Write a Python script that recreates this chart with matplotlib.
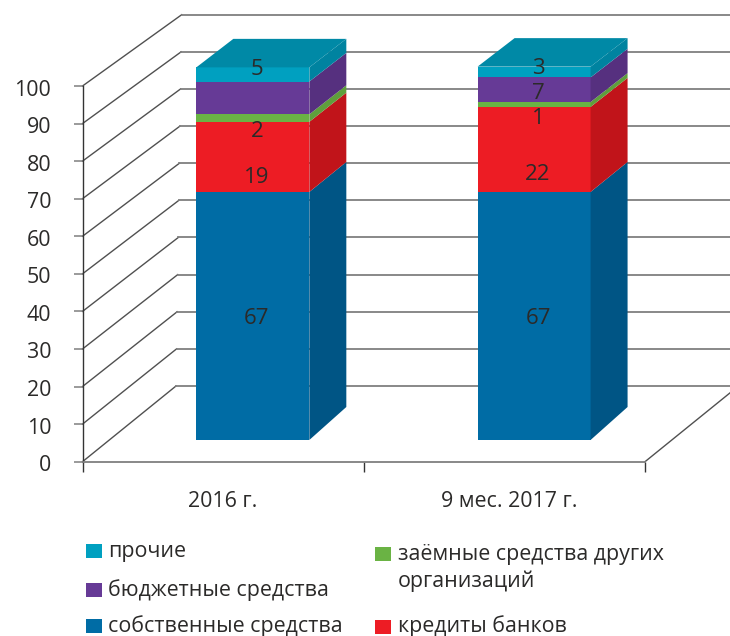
import matplotlib
matplotlib.use("Agg")
import matplotlib.pyplot as plt
from matplotlib.patches import Polygon, Rectangle
from matplotlib.transforms import ScaledTranslation

plt.rcParams['font.family'] = ['Open Sans', 'DejaVu Sans']

# --- data ---
categories = ['2016 г.', '9 мес. 2017 г.']
series_names = ['собственные средства', 'кредиты банков',
                'заёмные средства других\nорганизаций', 'бюджетные средства', 'прочие']
# segment heights as drawn in the picture
own = [66.5, 66.5]
bank = [18.8, 22.8]
loans = [2.0, 1.3]
budget = [8.8, 6.6]
other = [3.8, 2.9]
# printed data labels (none printed on the purple segment of 2016)
label_own = ['67', '67']
label_bank = ['19', '22']
label_loans = ['2', '1']
label_budget = ['', '7']
label_other = ['5', '3']
y_ticks = list(range(0, 101, 10))

# --- styles ---
front = ['#006CA5', '#ED1C24', '#6AB344', '#663A96', '#00A0C0']
side = ['#005585', '#C1141A', '#5F9F3C', '#56307F', '#0083A0']
top_col = '#0089A6'
text_col = '#2B2A29'
W, H = 730, 636
L, R, B, T = 82.5, 645, 461.7, 86
FS = 15.4

fig = plt.figure(figsize=(W / 100, H / 100), dpi=100)
ax = fig.add_axes([L / W, 1 - B / H, (R - L) / W, (B - T) / H])
ax.set_xlim(0, 2)
ax.set_ylim(0, 100)
ax.patch.set_alpha(0)
sx = (R - L) / 2
sy = (B - T) / 100

for s in ('top', 'right'):
    ax.spines[s].set_visible(False)
ax.spines['left'].set_color('#333333')
ax.spines['left'].set_linewidth(1.0)
ax.spines['bottom'].set_color('#7F7F7F')
ax.spines['bottom'].set_linewidth(1.3)
ax.set_yticks(y_ticks)
ax.tick_params(axis='y', length=6.5, width=1.1, color='#7F7F7F', pad=16,
               labelsize=FS, labelcolor=text_col)
down = ScaledTranslation(0, -1.5 / 100, fig.dpi_scale_trans)
for lab in ax.get_yticklabels():
    lab.set_transform(lab.get_transform() + down)
ax.set_xticks([0, 1, 2])
ax.set_xticklabels(['', '', ''])
ax.tick_params(axis='x', length=7.5, width=1.0, color='#333333')
ax.set_xticks([0.5, 1.518], minor=True)
ax.set_xticklabels(categories, minor=True)
ax.tick_params(axis='x', which='minor', length=0, pad=21, labelsize=FS, labelcolor=text_col)


def wall_dx(v):
    return (93.5 + 0.057 * v) / sx


def wall_dy(v):
    return (75.7 - 0.044 * v) / sy


x_edge = (W + 20 - L) / sx
for v in y_ticks:
    bx, by = wall_dx(v), v + wall_dy(v)
    ax.plot([0, bx], [v, by], color='#505050', lw=1.0, clip_on=False, zorder=1)
    ax.plot([bx, x_edge], [by, by], color='#7F7F7F', lw=1.3, clip_on=False, zorder=1)
ax.plot([2, 2 + wall_dx(0)], [0, wall_dy(0)], color='#505050', lw=1.0, clip_on=False, zorder=1)

# --- bars ---
bar_w = 113 / sx
shift_x = 29.7 / sx
base = 21.7 / sy
scale = 373 / (B - T)
depth_x = 37 / sx


def depth_y(v):
    return (33 - 0.045 * v) / sy


series = [own, bank, loans, budget, other]
for i in range(len(categories)):
    x0 = i + 0.5 + shift_x - bar_w / 2
    x1 = x0 + bar_w
    bottom = 0.0
    for k, values in enumerate(series):
        top = bottom + values[i]
        y0, y1 = base + bottom * scale, base + top * scale
        ax.add_patch(Polygon([(x0, y0), (x1, y0), (x1, y1), (x0, y1)], closed=True,
                             fc=front[k], ec='none', clip_on=False, zorder=3))
        ax.add_patch(Polygon([(x1, y0), (x1 + depth_x, y0 + depth_y(bottom)),
                              (x1 + depth_x, y1 + depth_y(top)), (x1, y1)], closed=True,
                             fc=side[k], ec='none', clip_on=False, zorder=3))
        bottom = top
    y1 = base + bottom * scale
    d = depth_y(bottom)
    ax.add_patch(Polygon([(x0, y1), (x1, y1), (x1 + depth_x, y1 + d), (x0 + depth_x, y1 + d)],
                         closed=True, fc=top_col, ec='none', clip_on=False, zorder=3))

# --- data labels: heights at which the source printed them, in axis units ---
label_sets = [label_own, label_bank, label_loans, label_budget, label_other]
label_heights = [[32.6, 32.6], [70.3, 71.3], [82.8, 86.2], [0, 92.8], [99.2, 99.5]]
for k, labs in enumerate(label_sets):
    for i, lab in enumerate(labs):
        if lab:
            ax.text(i + 0.5 + shift_x + 4 / sx, base + label_heights[k][i] * scale, lab,
                    ha='center', va='center', fontsize=FS + 0.6, color=text_col,
                    clip_on=False, zorder=5)


# --- legend ---
def legend_item(px, py, text_x, text_y, name, color, w=16, h=14):
    fig.add_artist(Rectangle((px / W, 1 - (py + h / 2) / H), w / W, h / H,
                             transform=fig.transFigure, fc=color, ec='none'))
    fig.text(text_x / W, 1 - text_y / H, name, ha='left', va='center',
             fontsize=FS, color=text_col, linespacing=1.38)


legend_item(86, 551, 108, 551, series_names[4], front[4])
legend_item(86, 590, 108, 590, series_names[3], front[3])
legend_item(86, 626, 108, 626.5, series_names[0], front[0])
legend_item(375, 554, 398, 568, series_names[2], front[2])
legend_item(375, 627, 398, 626.5, series_names[1], front[1])

fig.savefig('out.png', dpi=100)
